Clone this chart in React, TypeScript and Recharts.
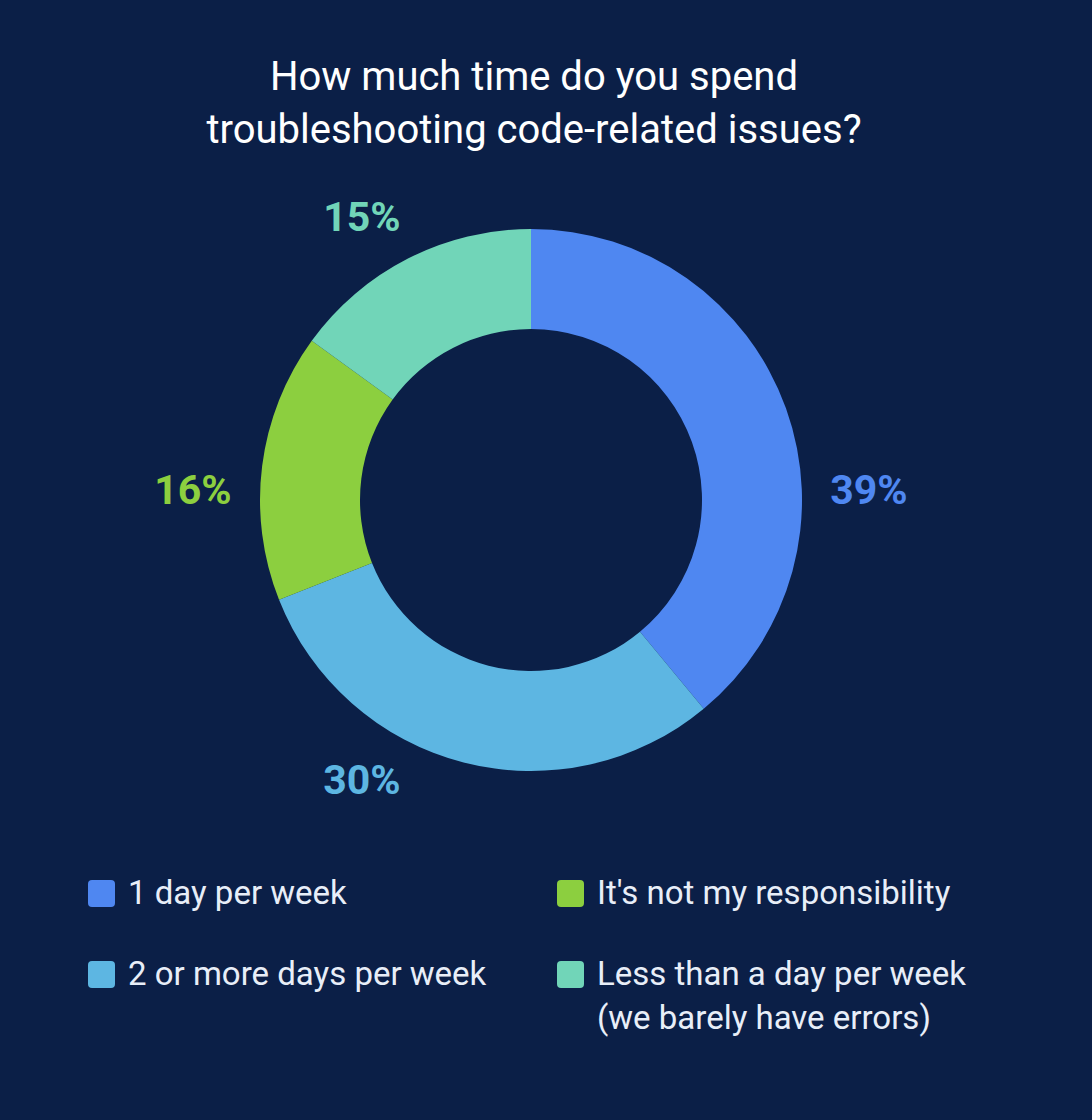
import React from 'react';
import { PieChart, Pie, Cell } from 'recharts';

const categories = [
  '1 day per week',
  '2 or more days per week',
  "It's not my responsibility",
  'Less than a day per week (we barely have errors)',
];
const shares = [39, 30, 16, 15];
const colors = ['#4f87f1', '#5db6e2', '#8ccf3f', '#71d5b8'];
// legend lines per category (last one wraps)
const legendLines = [
  ['1 day per week'],
  ['2 or more days per week'],
  ["It's not my responsibility"],
  ['Less than a day per week', '(we barely have errors)'],
];

const BG = '#0b1f47';
const TEXT = '#e8eef8';
const FONT = 'Roboto, "Noto Sans", sans-serif';
const RADIAN = Math.PI / 180;

const data = categories.map((name, i) => ({ name, value: shares[i], color: colors[i] }));

// labels sit beside the ring, snapped to the nearest 60 degrees of the slice middle
const renderLabel = (props: any) => {
  const { cx, cy, midAngle, outerRadius, index, value } = props;
  const angle = Math.round(midAngle / 60) * 60;
  const s = Math.sin(-angle * RADIAN);
  const c = Math.cos(-angle * RADIAN);
  const x = cx + (outerRadius + 67) * c;
  const y = cy + (outerRadius + 54) * s - 10 * (1 - Math.abs(s));
  return (
    <text
      x={x}
      y={y}
      fill={colors[index]}
      textAnchor="middle"
      dominantBaseline="central"
      fontFamily={FONT}
      fontWeight={700}
      fontSize={41}
    >
      {`${value}%`}
    </text>
  );
};

const LegendGrid = () => (
  <div
    style={{
      position: 'absolute',
      top: 871,
      left: 88,
      display: 'grid',
      gridTemplateColumns: '469px 440px',
      rowGap: 37,
      fontFamily: FONT,
      fontSize: 33,
      color: TEXT,
      lineHeight: '44px',
    }}
  >
    {[0, 2, 1, 3].map((i) => (
      <div key={i} style={{ display: 'flex', alignItems: 'flex-start' }}>
        <span
          style={{
            width: 27,
            height: 27,
            borderRadius: 4,
            background: colors[i],
            marginTop: 9,
            marginRight: 13,
            flex: 'none',
          }}
        />
        <span>
          {legendLines[i].map((l) => (
            <div key={l}>{l}</div>
          ))}
        </span>
      </div>
    ))}
  </div>
);

export default function App() {
  return (
    <div style={{ position: 'relative', width: 1092, height: 1120, background: BG, overflow: 'hidden' }}>
      <style>{'body{margin:0}'}</style>
      <div
        style={{
          position: 'absolute',
          top: 50,
          left: 0,
          width: 1068,
          textAlign: 'center',
          fontFamily: FONT,
          fontSize: 40,
          lineHeight: '53px',
          color: '#ffffff',
        }}
      >
        How much time do you spend
        <br />
        troubleshooting code-related issues?
      </div>
      <div style={{ position: 'absolute', top: 0, left: 0 }}>
        <PieChart width={1092} height={860} margin={{ top: 0, right: 0, bottom: 0, left: 0 }}>
          <Pie
            data={data}
            dataKey="value"
            nameKey="name"
            cx={531}
            cy={500}
            innerRadius={171}
            outerRadius={271}
            startAngle={90}
            endAngle={-270}
            stroke="none"
            label={renderLabel}
            labelLine={false}
            isAnimationActive={false}
          >
            {data.map((d) => (
              <Cell key={d.name} fill={d.color} />
            ))}
          </Pie>
        </PieChart>
      </div>
      <LegendGrid />
    </div>
  );
}
